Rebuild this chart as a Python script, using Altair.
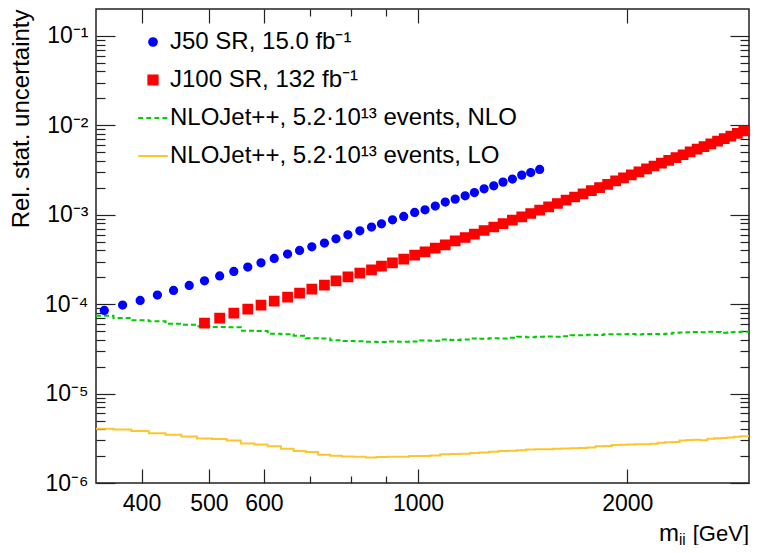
import altair as alt
import pandas as pd

# ---------------- data ----------------
mjj_bins = [353.6, 375.7, 398.2, 421.6, 444.8, 468.5, 492.8, 518.2, 543.1, 568.8,
            594.3, 620.9, 649.0, 675.3, 703.3, 733.3, 761.9, 792.6, 824.6, 857.1,
            885.9, 918.8, 953.6, 988.8, 1023.4, 1058.8, 1094.3, 1131.0, 1169.0, 1205.4,
            1244.7, 1285.2, 1325.2, 1366.9, 1410.0, 1452.5, 1496.3, 1541.2, 1586.8, 1633.0,
            1679.9, 1727.5, 1775.7, 1824.6, 1874.2, 1924.4, 1975.3, 2026.9, 2079.1, 2132.0,
            2185.6, 2239.8, 2294.7, 2350.3, 2406.5, 2463.4, 2521.0, 2579.3, 2638.2, 2697.8,
            2758.1, 2819.0, 2880.6, 2942.9]

# J50 SR: bins 0..36
j50_unc = [8.50e-5, 9.77e-5, 1.100e-4, 1.264e-4, 1.423e-4, 1.619e-4, 1.827e-4, 2.067e-4, 2.320e-4, 2.598e-4,
           2.902e-4, 3.242e-4, 3.632e-4, 3.985e-4, 4.382e-4, 4.821e-4, 5.384e-4, 5.968e-4, 6.615e-4, 7.275e-4,
           7.92e-4, 8.78e-4, 9.56e-4, 1.060e-3, 1.136e-3, 1.250e-3, 1.385e-3, 1.496e-3, 1.629e-3, 1.773e-3,
           1.950e-3, 2.107e-3, 2.317e-3, 2.504e-3, 2.775e-3, 2.967e-3, 3.207e-3]
j50_first_bin = 0

# J100 SR: bins 6..63
j100_unc = [6.14e-5, 6.99e-5, 7.95e-5, 8.81e-5, 9.77e-5, 1.083e-4, 1.201e-4, 1.331e-4, 1.475e-4, 1.635e-4,
            1.817e-4, 2.024e-4, 2.227e-4, 2.424e-4, 2.666e-4, 2.902e-4, 3.192e-4, 3.539e-4, 3.853e-4, 4.238e-4,
            4.615e-4, 5.114e-4, 5.567e-4, 6.076e-4, 6.665e-4, 7.295e-4, 7.96e-4, 8.69e-4, 9.49e-4, 1.033e-3,
            1.124e-3, 1.227e-3, 1.336e-3, 1.455e-3, 1.579e-3, 1.715e-3, 1.857e-3, 2.016e-3, 2.184e-3, 2.395e-3,
            2.588e-3, 2.796e-3, 3.021e-3, 3.256e-3, 3.508e-3, 3.779e-3, 4.062e-3, 4.365e-3, 4.69e-3, 5.04e-3,
            5.404e-3, 5.794e-3, 6.212e-3, 6.64e-3, 7.10e-3, 7.59e-3, 8.12e-3, 8.66e-3]
j100_first_bin = 6

# NLOJet++ NLO (all bins)
nlo_unc = [7.42e-5, 6.99e-5, 6.61e-5, 6.44e-5, 6.04e-5, 5.88e-5, 5.66e-5, 5.55e-5, 5.52e-5, 5.04e-5,
           5.00e-5, 4.67e-5, 4.61e-5, 4.43e-5, 4.16e-5, 4.14e-5, 3.95e-5, 3.87e-5, 3.85e-5, 3.80e-5,
           3.77e-5, 3.83e-5, 3.80e-5, 3.82e-5, 3.93e-5, 3.90e-5, 4.03e-5, 3.97e-5, 4.03e-5, 4.14e-5,
           4.10e-5, 4.16e-5, 4.14e-5, 4.21e-5, 4.32e-5, 4.27e-5, 4.32e-5, 4.34e-5, 4.32e-5, 4.38e-5,
           4.49e-5, 4.49e-5, 4.55e-5, 4.51e-5, 4.61e-5, 4.61e-5, 4.61e-5, 4.63e-5, 4.57e-5, 4.63e-5,
           4.63e-5, 4.61e-5, 4.67e-5, 4.79e-5, 4.81e-5, 4.85e-5, 4.88e-5, 4.85e-5, 4.91e-5, 4.88e-5,
           4.79e-5, 4.85e-5, 4.88e-5, 4.91e-5]

# NLOJet++ LO (all bins)
lo_unc = [4.05e-6, 3.97e-6, 3.81e-6, 3.59e-6, 3.47e-6, 3.32e-6, 3.15e-6, 3.10e-6, 2.99e-6, 2.77e-6,
          2.70e-6, 2.57e-6, 2.42e-6, 2.28e-6, 2.22e-6, 2.07e-6, 2.02e-6, 1.98e-6, 1.97e-6, 1.93e-6,
          1.95e-6, 1.97e-6, 1.97e-6, 2.00e-6, 2.01e-6, 2.03e-6, 2.09e-6, 2.11e-6, 2.13e-6, 2.16e-6,
          2.20e-6, 2.24e-6, 2.28e-6, 2.29e-6, 2.32e-6, 2.37e-6, 2.38e-6, 2.39e-6, 2.41e-6, 2.43e-6,
          2.44e-6, 2.46e-6, 2.49e-6, 2.57e-6, 2.60e-6, 2.66e-6, 2.68e-6, 2.69e-6, 2.71e-6, 2.72e-6,
          2.75e-6, 2.82e-6, 2.85e-6, 2.88e-6, 2.99e-6, 3.02e-6, 3.05e-6, 3.00e-6, 3.13e-6, 3.16e-6,
          3.19e-6, 3.22e-6, 3.29e-6, 3.33e-6]

x_domain = [344, 2994]
y_domain = [1e-6, 0.2]

series_labels = ["J50 SR, 15.0 fb⁻¹", "J100 SR, 132 fb⁻¹",
                 "NLOJet++, 5.2·10¹³ events, NLO", "NLOJet++, 5.2·10¹³ events, LO"]
series_colors = ["#0000ff", "#ff0000", "#00cc00", "#ffc52f"]

x_tick_values = [400, 500, 600, 700, 800, 900, 1000, 2000]
x_tick_labels = [400, 500, 600, 1000, 2000]
y_decades = [1e-6, 1e-5, 1e-4, 1e-3, 1e-2, 1e-1]
y_decade_labels = ["10⁻⁶", "10⁻⁵", "10⁻⁴", "10⁻³", "10⁻²", "10⁻¹"]
y_minor_steps = [2, 3, 4, 5, 6, 7, 8, 9]

# ---------------- tables ----------------
points_df = pd.DataFrame({
    "mjj": mjj_bins[j50_first_bin:j50_first_bin + len(j50_unc)]
           + mjj_bins[j100_first_bin:j100_first_bin + len(j100_unc)],
    "unc": j50_unc + j100_unc,
    "series": [series_labels[0]] * len(j50_unc) + [series_labels[1]] * len(j100_unc),
})
nlo_df = pd.DataFrame({"mjj": [x_domain[0]] + mjj_bins + [x_domain[1]],
                       "unc": [nlo_unc[0]] + nlo_unc + [nlo_unc[-1]]})
lo_df = pd.DataFrame({"mjj": [x_domain[0]] + mjj_bins + [x_domain[1]],
                      "unc": [lo_unc[0]] + lo_unc + [lo_unc[-1]]})

y_tick_values = []
for d in y_decades:
    y_tick_values.append(d)
    if d < 0.1:
        y_tick_values += [round(k * d, 12) for k in y_minor_steps]

FONT = "Liberation Sans"
FS_AX = 23
FS_LEG = 24
FS_TITLE = 24

x_major_test = "indexof([" + ",".join(str(v) for v in x_tick_labels) + "], datum.value) >= 0"
y_major_test = "abs(log(datum.value)/LN10 - round(log(datum.value)/LN10)) < 0.001"
y_label_expr = ""
for d, lab in zip(y_decades, y_decade_labels):
    y_label_expr += f"abs(datum.value/{d} - 1) < 0.001 ? '{lab}' : "
y_label_expr += "''"

x_scale = alt.Scale(type="log", domain=x_domain, nice=False)
y_scale = alt.Scale(type="log", domain=y_domain, nice=False)

common_axis = dict(grid=False, domain=False, tickColor="#222", tickWidth=1.2,
                   labelFont=FONT, labelFontSize=FS_AX, labelColor="black",
                   labelOverlap=False, labelFlush=False, labelBound=False)


def x_axis(orient, show_labels):
    return alt.Axis(orient=orient, values=x_tick_values, labels=show_labels,
                    labelExpr=f"{x_major_test} ? format(datum.value, 'd') : ''",
                    tickSize={"expr": "-14"}, labelPadding=23,
                    tickDash={"condition": {"test": x_major_test, "value": [40, 10]}, "value": [7, 60]},
                    title=None, **common_axis)


def y_axis(orient, show_labels, title=None):
    if title:
        extra = dict(title=title, titleFont=FONT, titleFontSize=FS_TITLE, titleFontWeight="normal",
                     titleColor="black", titleAngle=270, titleAlign="right",
                     titleBaseline="alphabetic", titleX=-68, titleY=0)
    else:
        extra = dict(title=None)
    return alt.Axis(orient=orient, values=y_tick_values, labels=show_labels,
                    labelExpr=y_label_expr, tickSize={"expr": "-19"}, labelPadding=27,
                    tickDash={"condition": {"test": y_major_test, "value": [40, 10]}, "value": [9, 60]},
                    **extra, **common_axis)


shapes = ["circle", "square",
          "M-3.2,0H-2.15M-1.45,0H-0.4M0.3,0H1.35M2.05,0H3.1",
          "M-3.2,0H3.2"]
sizes = [60, 85, 85, 85]
leg = alt.Legend(title=None, orient="none", legendX=45, legendY=21, padding=0,
                 labelFont=FONT, labelFontSize=FS_LEG, labelColor="black", labelOffset=5,
                 labelLimit=0, rowPadding=14, symbolStrokeWidth=2, symbolOpacity=1)

lo_layer = alt.Chart(lo_df).mark_line(interpolate="step", clip=True, color=series_colors[3],
                                      strokeWidth=2).encode(
    x=alt.X("mjj:Q", scale=x_scale, axis=None),
    y=alt.Y("unc:Q", scale=y_scale, axis=None),
)
nlo_layer = alt.Chart(nlo_df).mark_line(interpolate="step", clip=True, color=series_colors[2],
                                        strokeWidth=2, strokeDash=[5, 3]).encode(
    x=alt.X("mjj:Q", scale=x_scale, axis=x_axis("top", False)),
    y=alt.Y("unc:Q", scale=y_scale, axis=y_axis("right", False)),
)
points_layer = alt.Chart(points_df).mark_point(filled=True, opacity=1, strokeWidth=1.5).encode(
    x=alt.X("mjj:Q", scale=x_scale, axis=x_axis("bottom", True)),
    y=alt.Y("unc:Q", scale=y_scale, axis=y_axis("left", True, "Rel. stat. uncertainty")),
    fill=alt.Fill("series:N", scale=alt.Scale(domain=series_labels, range=series_colors), legend=leg),
    stroke=alt.Stroke("series:N", scale=alt.Scale(domain=series_labels, range=series_colors), legend=leg),
    shape=alt.Shape("series:N", scale=alt.Scale(domain=series_labels, range=shapes), legend=leg),
    size=alt.Size("series:N", scale=alt.Scale(type="ordinal", domain=series_labels, range=sizes), legend=leg),
)

# x-axis title "m_jj [GeV]" (with subscript)
t_m = alt.Chart(pd.DataFrame({"t": ["m"]})).mark_text(
    align="left", baseline="alphabetic", font=FONT, fontSize=FS_TITLE, color="black").encode(
    x=alt.value(563), y=alt.value(531.5), text="t:N")
t_jj = alt.Chart(pd.DataFrame({"t": ["jj"]})).mark_text(
    align="left", baseline="alphabetic", font=FONT, fontSize=15, color="black").encode(
    x=alt.value(583), y=alt.value(534.5), text="t:N")
t_gev = alt.Chart(pd.DataFrame({"t": ["[GeV]"]})).mark_text(
    align="right", baseline="alphabetic", font=FONT, fontSize=22, color="black").encode(
    x=alt.value(653), y=alt.value(531.5), text="t:N")

chart = alt.layer(lo_layer, nlo_layer, points_layer, t_m, t_jj, t_gev).properties(
    width=653, height=474,
    padding={"left": 88, "top": 1, "right": 1, "bottom": 62},
    autosize=alt.AutoSizeParams(type="none"),
    background="white",
).configure_view(stroke="#222", strokeWidth=1.5)

chart.save("out.html", embed_options={"renderer": "svg", "actions": False})
